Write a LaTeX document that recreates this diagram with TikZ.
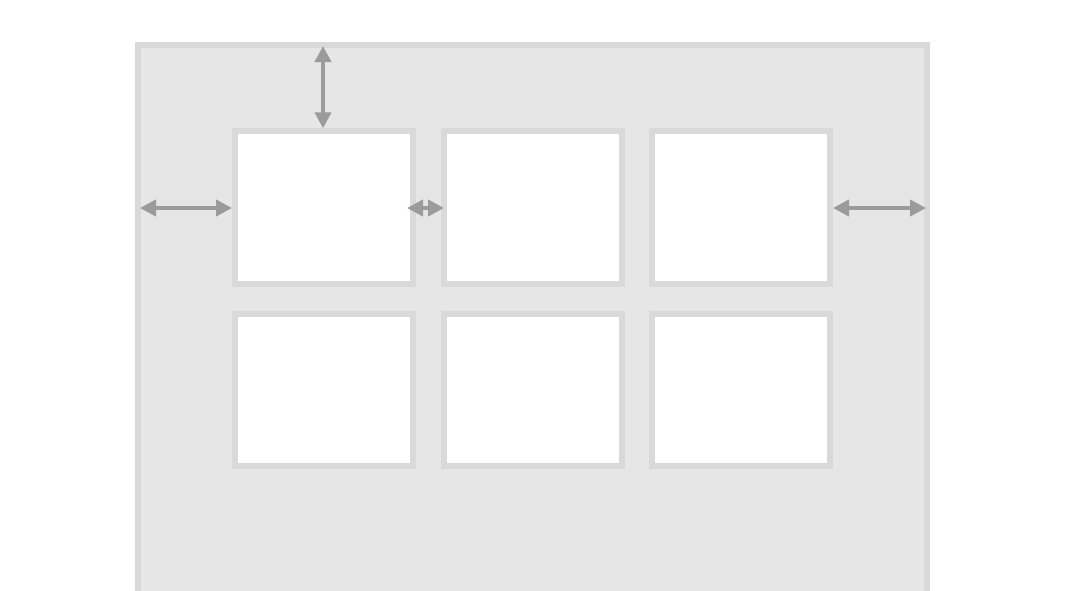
\documentclass[tikz,border=0pt]{standalone}
\usepackage{tikz}
\usetikzlibrary{arrows.meta}
\definecolor{pagegray}{HTML}{E6E6E6}
\definecolor{edgegray}{HTML}{D9D9DA}
\definecolor{arrowgray}{HTML}{9A9B9A}
\tikzset{
  cell/.style={draw=edgegray, fill=white, line width=6pt, inner sep=0pt, outer sep=3pt, minimum width=178pt, minimum height=152.5pt},
  gap/.style={arrowgray, line width=4pt, {Triangle[length=16pt,width=16pt]}-{Triangle[length=16pt,width=16pt]}}
}
\begin{document}
\begin{tikzpicture}[x=1pt,y=-1pt]
\useasboundingbox (0,0) rectangle (1066,590);
\clip (0,0) rectangle (1066,590);
% container
\draw [edgegray, fill=pagegray, line width=6pt] (138,45) rectangle (927,640);
% six items
\node [cell] (b11) at (324,207.5) {};
\node [cell] (b12) at (532.5,207.5) {};
\node [cell] (b13) at (741,207.5) {};
\node [cell] (b21) at (324,390) {};
\node [cell] (b22) at (532.5,390) {};
\node [cell] (b23) at (741,390) {};
% free ends
\coordinate (top) at (323,46);
\coordinate (left) at (140,208);
\coordinate (right) at (926,208);
\coordinate (midl) at (407,208);
\coordinate (midr) at (444,208);
% spacing arrows
\draw [gap] (top) -- (top |- b11.north);
\draw [gap] (left) -- (b11.west |- left);
\draw [gap] (midl) -- (midr);
\draw [gap] (b13.east |- right) -- (right);
\end{tikzpicture}
\end{document}
